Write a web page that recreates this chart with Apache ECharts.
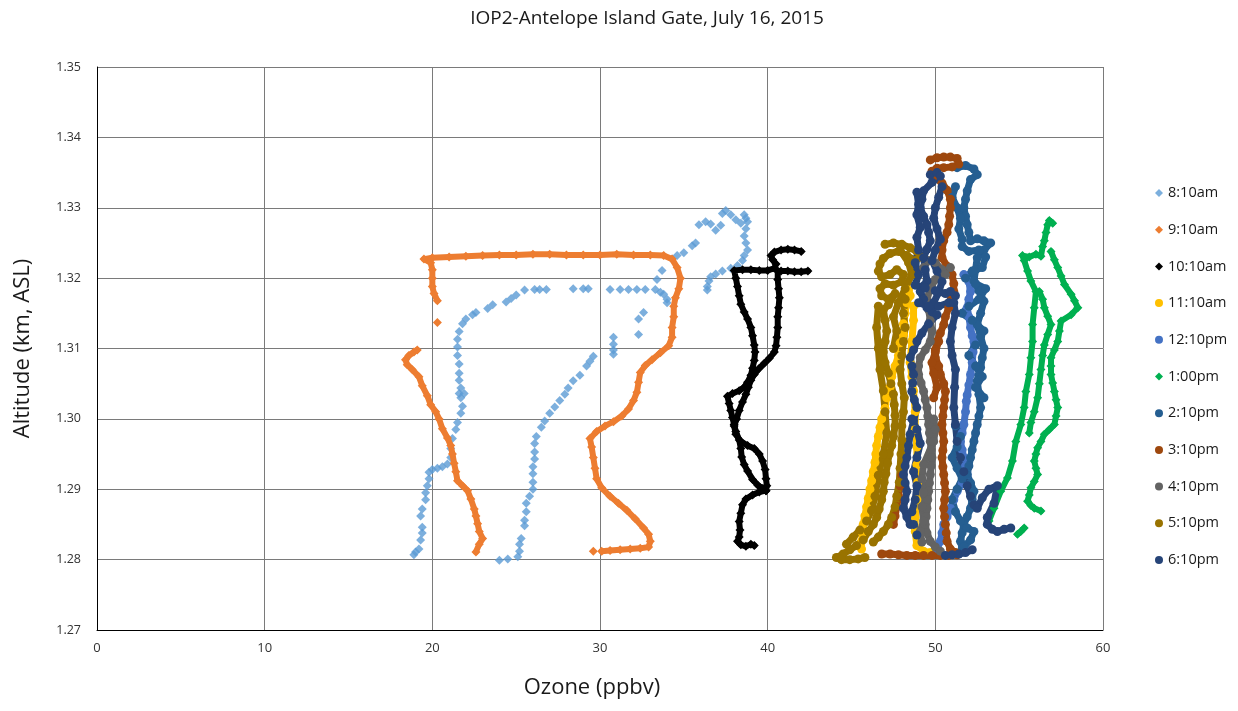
<!DOCTYPE html>
<html>
<head>
<meta charset="utf-8">
<script src="https://cdn.jsdelivr.net/npm/echarts@6/dist/echarts.min.js"></script>
<style>
  html, body { margin: 0; padding: 0; background: #fff; }
  #chart { width: 1238px; height: 711px; }
</style>
</head>
<body>
<div id="chart"></div>
<script>
// Ozone (ppbv) vs altitude (km ASL) profiles, one array of track segments per flight.
const xTicks = [0, 10, 20, 30, 40, 50, 60];
const yTicks = [1.27, 1.28, 1.29, 1.30, 1.31, 1.32, 1.33, 1.34, 1.35];

const flight0810 = [[
  [18.9,1.2807],[19.0,1.2811],[19.2,1.2815],[19.3,1.2828],[19.4,1.2838],[19.4,1.2846],[19.3,1.2862],[19.4,1.2872],
  [19.6,1.2885],[19.6,1.2895],[19.7,1.2905],[19.8,1.2915],[19.8,1.2924],[20.0,1.2928],[20.3,1.2930],[20.6,1.2932],
  [20.9,1.2936],[21.1,1.2945],[21.1,1.2958],[21.2,1.2972],[21.4,1.2985],[21.5,1.2995],[21.7,1.3008],[21.8,1.3018],
  [21.7,1.3030],[21.6,1.3036],[21.9,1.3036],[21.7,1.3044],[21.6,1.3055],[21.6,1.3065],[21.6,1.3078],[21.5,1.3090],
  [21.5,1.3102],[21.5,1.3113],[21.6,1.3124],[21.8,1.3135],[22.0,1.3142],[22.4,1.3148],[22.6,1.3151],[23.3,1.3157],
  [23.6,1.3162],[24.4,1.3166],[24.7,1.3171],[25.0,1.3176],[25.5,1.3183],[26.1,1.3184],[26.4,1.3184],[26.8,1.3184],
  [28.4,1.3185],[29.0,1.3185],[29.3,1.3185],[30.6,1.3184],[31.2,1.3184],[31.7,1.3184],[32.2,1.3184],[32.7,1.3184],
  [33.3,1.3184],[33.6,1.3180],[33.8,1.3177],[34.0,1.3170],[34.0,1.3165],[33.4,1.3198],[33.7,1.3211],[34.3,1.3227],
  [34.6,1.3232],[35.0,1.3236],[35.5,1.3246],[35.7,1.3250],[35.9,1.3276],[36.3,1.3280],[36.6,1.3277],[36.9,1.3268],
  [37.2,1.3275],[37.3,1.3292],[37.5,1.3296],[37.8,1.3290],[38.1,1.3283],[38.4,1.3278],[38.6,1.3290],[38.7,1.3285],
  [38.8,1.3280],[38.7,1.3270],[38.6,1.3260],[38.7,1.3250],[38.8,1.3240],[38.6,1.3232],[38.5,1.3225],[38.2,1.3218],
  [37.8,1.3214],[37.3,1.3210],[36.9,1.3206],[36.6,1.3202],[36.5,1.3196],[36.4,1.3188],[36.4,1.3183]
],[
  [32.6,1.3151],[32.3,1.3142],[32.3,1.3120],[30.8,1.3116],[30.8,1.3106],[30.8,1.3098],[30.8,1.3092],[29.6,1.3089],
  [29.4,1.3082],[29.2,1.3075],[28.8,1.3062],[28.4,1.3054],[28.1,1.3044],[27.9,1.3035],[27.6,1.3026],[27.3,1.3017],
  [27.0,1.3008],[26.7,1.2997],[26.5,1.2988],[26.2,1.2975],[26.1,1.2965],[26.1,1.2953],[26.1,1.2943],[26.0,1.2932],
  [26.0,1.2922],[26.0,1.2910],[26.0,1.2900],[25.8,1.2890],[25.6,1.2880],[25.6,1.2868],[25.5,1.2856],[25.5,1.2848],
  [25.3,1.2830],[25.2,1.2822],[25.2,1.2812],[25.1,1.2804],[24.5,1.2801],[24.0,1.2799]
]];

const flight0910 = [[
  [22.6,1.2811],[22.8,1.2822],[23.0,1.2830],[22.8,1.2840],[22.7,1.2851],[22.6,1.2862],[22.5,1.2872],[22.3,1.2886],
  [22.1,1.2898],[21.8,1.2905],[21.5,1.2912],[21.4,1.2925],[21.3,1.2937],[21.2,1.2950],[21.1,1.2962],[20.9,1.2973],
  [20.6,1.2986],[20.4,1.3000],[20.2,1.3010],[19.9,1.3020],[19.7,1.3033],[19.4,1.3047],[19.2,1.3060],[18.8,1.3070],
  [18.5,1.3077],[18.4,1.3084],[18.6,1.3090],[18.9,1.3095],[19.1,1.3098]
],[
  [20.3,1.3137]
],[
  [20.3,1.3168],[20.1,1.3178],[20.0,1.3188],[20.0,1.3200],[20.0,1.3212],[19.9,1.3222],[19.5,1.3227],[20.0,1.3229],
  [21.0,1.3230],[22.0,1.3231],[23.0,1.3232],[24.0,1.3233],[25.0,1.3233],[26.0,1.3234],[27.0,1.3234],[28.0,1.3233],
  [29.0,1.3233],[30.0,1.3233],[31.0,1.3234],[32.0,1.3233],[33.0,1.3233],[33.8,1.3232],[34.3,1.3227],[34.6,1.3215],
  [34.8,1.3200],[34.7,1.3185],[34.5,1.3172],[34.4,1.3160],[34.4,1.3145],[34.3,1.3130],[34.3,1.3116],[34.1,1.3104],
  [33.6,1.3094],[33.1,1.3084],[32.7,1.3076],[32.4,1.3066],[32.3,1.3052],[32.2,1.3038],[32.0,1.3026],[31.7,1.3014],
  [31.3,1.3004],[30.8,1.2996],[30.3,1.2990],[29.8,1.2982],[29.4,1.2972],[29.5,1.2960],[29.6,1.2945],[29.7,1.2930],
  [29.8,1.2915],[30.1,1.2902],[30.6,1.2890],[31.1,1.2880],[31.6,1.2870],[32.1,1.2858],[32.6,1.2845],[32.9,1.2836],
  [33.0,1.2826],[32.9,1.2818],[32.4,1.2816],[31.8,1.2815],[31.2,1.2814],[30.6,1.2813],[30.1,1.2812]
],[
  [29.6,1.2812]
]];

const flight1010 = [[
  [42.0,1.3238],[41.6,1.3240],[41.2,1.3241],[40.8,1.3240],[40.4,1.3237],[40.2,1.3232],[40.3,1.3226],[40.5,1.3220],
  [40.4,1.3214],[40.0,1.3211],[39.5,1.3211],[39.0,1.3212],[38.5,1.3212],[38.0,1.3211],[38.1,1.3200],[38.2,1.3188],
  [38.3,1.3175],[38.4,1.3163],[38.6,1.3152],[38.8,1.3142],[39.0,1.3130],[39.1,1.3118],[39.2,1.3105],[39.25,1.3095],
  [39.2,1.3083],[39.1,1.3072],[39.0,1.3062],[38.8,1.3052],[38.6,1.3045],[38.3,1.3040],[37.9,1.3036],[37.6,1.3032],
  [37.7,1.3022],[37.8,1.3012],[37.9,1.3002],[38.0,1.2992],[38.1,1.2982],[38.3,1.2970],[38.4,1.2958],[38.45,1.2946],
  [38.6,1.2935],[38.8,1.2926],[39.1,1.2914],[39.4,1.2906],[39.7,1.2901],[39.9,1.2898],[39.5,1.2896],[39.1,1.2892],
  [38.7,1.2886],[38.5,1.2878],[38.4,1.2866],[38.3,1.2854],[38.35,1.2842],[38.3,1.2832],[38.2,1.2826],[38.4,1.2821],
  [38.7,1.2819],[39.0,1.2822],[39.2,1.2820]
],[
  [42.4,1.3210],[42.0,1.3209],[41.6,1.3209],[41.2,1.3210],[40.8,1.3210],[40.6,1.3210],[40.6,1.3198],[40.65,1.3185],
  [40.7,1.3172],[40.65,1.3158],[40.6,1.3145],[40.6,1.3130],[40.55,1.3116],[40.5,1.3104],[40.4,1.3095],[40.1,1.3086],
  [39.8,1.3079],[39.5,1.3072],[39.2,1.3063],[39.0,1.3055],[38.85,1.3045],[38.7,1.3035],[38.5,1.3024],[38.3,1.3012],
  [38.15,1.3000],[38.0,1.2990],[38.1,1.2978],[38.4,1.2968],[38.8,1.2962],[39.2,1.2958],[39.5,1.2950],[39.7,1.2940],
  [39.85,1.2928],[39.9,1.2915],[39.95,1.2905],[39.9,1.2898]
]];

const flight1110 = [[
  [48.4,1.3183],[48.5,1.3175],[48.3,1.3165],[48.2,1.3150],[48.1,1.3135],[48.1,1.3120],[47.9,1.3108],[47.8,1.3090],
  [47.6,1.3075],[47.4,1.3060],[47.3,1.3045],[47.1,1.3030],[47.0,1.3015],[46.8,1.3000],[46.7,1.2988],[46.6,1.2975],
  [46.5,1.2962],[46.45,1.2950],[46.4,1.2938],[46.3,1.2925],[46.2,1.2912],[46.1,1.2900],[46.0,1.2887],[45.9,1.2875],
  [45.8,1.2862],[45.7,1.2850],[45.65,1.2838],[45.6,1.2826],[45.6,1.2815]
],[
  [48.7,1.3160],[48.7,1.3140],[48.6,1.3110],[48.5,1.3080],[48.6,1.3060],[48.7,1.3040],[48.8,1.3010],[48.8,1.2985],
  [48.9,1.2960],[48.9,1.2935],[48.95,1.2910],[48.9,1.2885],[48.8,1.2860],[48.8,1.2840],[48.9,1.2820],[49.3,1.2812],
  [49.7,1.2810]
]];

const flight1210 = [[
  [51.7,1.3205],[52.0,1.3195],[52.1,1.3181],[52.0,1.3170],[51.9,1.3158],[52.0,1.3145],[52.1,1.3130],[52.2,1.3118],
  [52.3,1.3110],[52.25,1.3095],[52.2,1.3080],[52.1,1.3063],[52.0,1.3048],[51.9,1.3034],[51.85,1.3025],[51.8,1.3010],
  [51.7,1.2992],[51.6,1.2980],[51.5,1.2968],[51.6,1.2956],[51.7,1.2945],[51.8,1.2933],[51.9,1.2921],[51.6,1.2909],
  [51.3,1.2897],[51.1,1.2885],[50.9,1.2873],[50.7,1.2861],[50.5,1.2850],[50.4,1.2838],[50.3,1.2826],[50.1,1.2815]
]];

const flight1300 = [[
  [53.2,1.2855],[53.5,1.2873],[53.9,1.2897],[54.3,1.2916],[54.6,1.2940],[54.8,1.2968],[55.1,1.2992],[55.3,1.3016],
  [55.4,1.3039],[55.6,1.3063],[55.7,1.3087],[55.8,1.3110],[55.8,1.3134],[55.9,1.3158],[56.0,1.3181],[55.7,1.3196],
  [55.5,1.3210],[55.3,1.3225],[55.2,1.3232],[55.6,1.3230],[56.0,1.3234],[56.3,1.3231],[56.4,1.3245],[56.5,1.3253],
  [56.6,1.3265],[56.7,1.3276],[56.8,1.3282],[57.0,1.3278]
],[
  [56.9,1.3238],[57.1,1.3226],[57.3,1.3215],[57.5,1.3203],[57.7,1.3191],[58.1,1.3177],[58.3,1.3168],[58.5,1.3158],
  [58.1,1.3148],[57.5,1.3139],[57.4,1.3125],[57.3,1.3110],[57.1,1.3098],[56.9,1.3087],[56.9,1.3075],[56.9,1.3063],
  [57.0,1.3051],[57.1,1.3039],[57.2,1.3027],[57.3,1.3016],[57.2,1.3004],[57.1,1.2992],[56.8,1.2985],[56.5,1.2978],
  [56.3,1.2968],[56.1,1.2959],[56.0,1.2950],[55.9,1.2940],[56.0,1.2930],[56.1,1.2921],[55.9,1.2911],[55.7,1.2902],
  [55.6,1.2892],[55.5,1.2883],[55.7,1.2877],[55.9,1.2873],[56.3,1.2869]
],[
  [56.2,1.3181],[56.4,1.3170],[56.5,1.3158],[56.7,1.3146],[56.9,1.3134],[56.7,1.3120],[56.5,1.3105],[56.4,1.3090],
  [56.3,1.3070],[56.2,1.3050],[56.1,1.3030],[55.9,1.3010],[55.7,1.2995],[55.6,1.2980]
],[
  [54.9,1.2836],[55.1,1.2840],[55.3,1.2845]
]];

const flight1410 = [[
  [51.3,1.3357],[51.8,1.3360],[52.3,1.3355],[52.5,1.3347],[52.1,1.3340],[51.9,1.3324],[51.8,1.3312],[51.7,1.3300],
  [51.8,1.3288],[51.9,1.3276],[52.0,1.3265],[52.1,1.3253],[52.5,1.3256],[52.9,1.3253],[53.3,1.3250],[52.9,1.3240],
  [52.5,1.3229],[52.4,1.3212],[52.3,1.3196],[52.6,1.3182],[52.9,1.3167],[52.7,1.3150],[52.5,1.3134],[52.7,1.3117],
  [52.9,1.3100],[52.8,1.3087],[52.7,1.3073],[52.6,1.3062],[52.5,1.3054],[52.6,1.3035],[52.7,1.3016],[52.6,1.3004],
  [52.5,1.2992],[52.4,1.2980],[52.3,1.2968],[52.2,1.2956],[52.1,1.2945],[52.0,1.2933],[51.9,1.2921],[52.1,1.2909],
  [52.3,1.2897],[52.2,1.2885],[52.1,1.2873],[51.9,1.2861],[51.7,1.2850],[51.6,1.2838],[51.5,1.2826],[51.6,1.2815]
],[
  [51.2,1.3330],[51.0,1.3315],[51.3,1.3300],[51.5,1.3285],[51.4,1.3270],[51.6,1.3255]
],[
  [51.6,1.3245],[52.0,1.3238],[52.6,1.3240],[53.0,1.3230],[52.8,1.3215],[52.2,1.3210],[51.8,1.3200],[52.4,1.3192],
  [53.0,1.3185],[52.6,1.3170],[52.0,1.3160],[51.6,1.3150],[52.2,1.3140],[52.9,1.3125],[52.4,1.3105],[52.0,1.3090],
  [52.4,1.3075],[52.8,1.3060],[52.4,1.3045],[52.9,1.3030]
],[
  [51.2,1.2990],[51.5,1.2975],[51.3,1.2960],[51.0,1.2945],[51.3,1.2930],[51.6,1.2915],[51.3,1.2900],[51.0,1.2885],
  [51.2,1.2868],[51.5,1.2855],[51.9,1.2845],[52.3,1.2840],[52.1,1.2828],[51.7,1.2818]
]];

const flight1510 = [[
  [49.7,1.3368],[50.1,1.3371],[50.5,1.3372],[50.9,1.3372],[51.3,1.3370],[51.4,1.3362],[51.0,1.3358],[50.5,1.3357],
  [50.1,1.3356],[49.8,1.3352],[49.9,1.3345],[50.4,1.3335],[50.7,1.3325],[50.9,1.3312],[50.9,1.3300],[50.85,1.3288],
  [50.8,1.3276],[50.7,1.3265],[50.5,1.3253],[50.4,1.3240],[50.4,1.3229],[50.7,1.3217],[51.0,1.3205],[51.1,1.3192],
  [51.1,1.3181],[50.95,1.3170],[50.8,1.3158],[50.6,1.3145],[50.5,1.3134],[50.3,1.3122],[50.1,1.3110],[50.0,1.3098],
  [50.0,1.3087],[50.2,1.3075],[50.3,1.3063],[50.5,1.3050],[50.6,1.3039],[50.55,1.3027],[50.5,1.3016],[50.45,1.3004],
  [50.4,1.2992],[50.45,1.2980],[50.5,1.2968],[50.45,1.2955],[50.4,1.2945],[50.45,1.2932],[50.5,1.2921],[50.55,1.2909],
  [50.6,1.2897],[50.55,1.2885],[50.5,1.2873],[50.55,1.2861],[50.6,1.2850],[50.65,1.2838],[50.7,1.2826],[50.9,1.2815],
  [51.2,1.2810]
],[
  [51.3,1.2807],[50.8,1.2806],[50.3,1.2806],[49.8,1.2806],[49.3,1.2806],[48.8,1.2806],[48.3,1.2806],[47.8,1.2807],
  [47.3,1.2808],[46.8,1.2808]
],[
  [48.0,1.2920],[47.9,1.2905],[47.8,1.2890],[47.7,1.2875],[47.6,1.2862],[47.5,1.2850]
],[
  [50.2,1.3110],[50.0,1.3095],[49.8,1.3080],[49.9,1.3065],[50.1,1.3045],[49.9,1.3030]
]];

const flight1610 = [[
  [49.3,1.3215],[49.6,1.3225],[50.0,1.3222],[50.4,1.3212],[50.9,1.3215],[50.6,1.3205],[50.0,1.3198],[49.7,1.3185],
  [49.5,1.3170],[49.6,1.3155],[49.7,1.3140],[49.8,1.3125],[49.7,1.3110],[49.4,1.3098],[49.1,1.3087],[49.0,1.3075],
  [49.0,1.3063],[49.15,1.3051],[49.3,1.3039],[49.4,1.3027],[49.5,1.3016],[49.55,1.3004],[49.6,1.2992],[49.65,1.2980],
  [49.7,1.2968],[49.75,1.2956],[49.8,1.2945],[49.75,1.2933],[49.7,1.2921],[49.65,1.2909],[49.6,1.2897],[49.55,1.2885],
  [49.5,1.2873],[49.45,1.2861],[49.4,1.2850],[49.5,1.2838],[49.7,1.2826],[50.0,1.2818],[50.3,1.2812]
],[
  [49.9,1.3000],[50.0,1.2985],[49.9,1.2968],[49.3,1.2935],[49.2,1.2915],[49.3,1.2895],[49.2,1.2875],[49.3,1.2855],
  [49.1,1.2840],[49.2,1.2825]
]];

const flight1710 = [[
  [47.0,1.3248],[47.5,1.3250],[48.0,1.3248],[48.5,1.3243],[48.9,1.3238],[49.1,1.3230],[48.8,1.3225],[48.3,1.3232],
  [47.8,1.3238],[47.3,1.3235],[46.9,1.3228],[46.7,1.3220],[46.6,1.3210],[46.8,1.3202],[47.3,1.3205],[47.7,1.3212],
  [48.1,1.3205],[48.0,1.3195],[47.5,1.3190],[47.0,1.3192],[46.7,1.3185],[46.8,1.3175],[47.2,1.3170],[47.6,1.3178],
  [47.2,1.3162],[46.9,1.3155],[47.0,1.3140],[47.1,1.3125],[47.0,1.3110],[46.9,1.3095],[47.0,1.3080],[47.2,1.3065],
  [47.35,1.3050],[47.5,1.3035],[47.55,1.3020],[47.6,1.3005],[47.6,1.2990],[47.5,1.2975],[47.4,1.2962],[47.25,1.2950],
  [47.15,1.2937],[47.05,1.2922],[46.95,1.2910],[46.9,1.2897],[46.8,1.2885],[46.65,1.2872],[46.5,1.2860],[46.3,1.2850],
  [46.0,1.2840],[45.7,1.2828],[45.3,1.2820],[44.9,1.2814],[44.5,1.2808],[44.1,1.2803],[44.4,1.2800],[44.9,1.2800],
  [45.4,1.2801],[45.8,1.2803]
],[
  [48.2,1.3170],[48.1,1.3150],[48.2,1.3130],[48.1,1.3110],[48.0,1.3090],[47.9,1.3070],[48.0,1.3050],[48.15,1.3030],
  [48.1,1.3010],[48.0,1.2990],[48.0,1.2970],[47.95,1.2950],[47.9,1.2930],[47.85,1.2910],[47.7,1.2890],[47.6,1.2875],
  [47.4,1.2860],[47.2,1.2850],[46.9,1.2840],[46.6,1.2832],[46.3,1.2825]
],[
  [46.6,1.3160],[46.5,1.3130],[46.6,1.3100],[46.7,1.3070],[46.9,1.3040],[47.0,1.3010],[47.1,1.2980],[46.9,1.2950],
  [46.6,1.2920],[46.4,1.2890],[46.2,1.2870],[45.9,1.2855],[45.5,1.2842],[45.1,1.2832],[44.7,1.2822]
],[
  [47.9,1.3240],[48.4,1.3222],[48.6,1.3205],[48.2,1.3185],[47.8,1.3165],[47.5,1.3145],[47.7,1.3125],[47.5,1.3100]
]];

const flight1810 = [[
  [49.7,1.3347],[50.1,1.3350],[50.3,1.3345],[49.8,1.3336],[49.3,1.3324],[49.2,1.3312],[49.1,1.3300],[49.3,1.3288],
  [49.5,1.3276],[49.6,1.3265],[49.7,1.3253],[49.5,1.3241],[49.3,1.3229],[49.4,1.3212],[49.5,1.3196],[49.3,1.3189],
  [49.1,1.3181],[49.3,1.3170],[49.5,1.3158],[49.8,1.3152],[50.1,1.3148],[49.6,1.3135],[49.2,1.3122],[48.9,1.3110],
  [48.7,1.3098],[48.5,1.3087],[48.6,1.3075],[48.7,1.3063],[48.65,1.3051],[48.6,1.3039],[48.75,1.3027],[48.9,1.3016],
  [48.7,1.2997],[48.5,1.2978],[48.4,1.2962],[48.3,1.2945],[48.2,1.2933],[48.1,1.2921],[48.2,1.2909],[48.3,1.2897],
  [48.2,1.2885],[48.1,1.2873],[48.3,1.2861],[48.5,1.2850]
],[
  [50.4,1.3330],[50.2,1.3315],[50.0,1.3300],[49.9,1.3285],[50.1,1.3270],[50.3,1.3255],[50.0,1.3240],[49.8,1.3225],
  [50.1,1.3210],[50.4,1.3195],[50.2,1.3180],[49.9,1.3165]
],[
  [48.9,1.3322],[49.0,1.3305],[48.9,1.3290],[49.1,1.3272],[48.9,1.3258],[49.0,1.3240],[48.8,1.3222],[49.0,1.3205],
  [48.8,1.3190],[49.4,1.3186],[50.0,1.3182],[50.6,1.3178],[51.2,1.3175],[50.8,1.3165],[50.2,1.3160],[49.6,1.3160],
  [49.0,1.3165]
],[
  [50.9,1.3181],[51.1,1.3165],[51.2,1.3150],[51.0,1.3130],[50.9,1.3110],[51.0,1.3090],[51.2,1.3070],[51.15,1.3045],
  [51.1,1.3016],[51.2,1.2992],[51.3,1.2968],[51.5,1.2945],[51.7,1.2925],[51.9,1.2905],[52.1,1.2890],[52.3,1.2878],
  [52.5,1.2873],[52.8,1.2888],[53.2,1.2900],[53.7,1.2905],[53.5,1.2880],[53.1,1.2860],[53.1,1.2850],[53.4,1.2843],
  [53.7,1.2840],[54.1,1.2843],[54.5,1.2845]
],[
  [50.6,1.2806],[51.0,1.2807],[51.4,1.2808],[51.8,1.2810],[52.2,1.2814]
],[
  [48.6,1.3000],[48.9,1.2985],[49.1,1.2965],[48.9,1.2945],[48.7,1.2925],[48.9,1.2905],[48.8,1.2885],[48.6,1.2868],
  [48.7,1.2850],[48.9,1.2835]
]];

const flights = [
  { name: '8:10am',  color: '#5B9BD5', symbol: 'diamond', track: false, data: flight0810 },
  { name: '9:10am',  color: '#ED7D31', symbol: 'diamond', track: true,  data: flight0910 },
  { name: '10:10am', color: '#000000', symbol: 'diamond', track: true,  data: flight1010 },
  { name: '11:10am', color: '#FFC000', symbol: 'circle',  track: true,  data: flight1110 },
  { name: '12:10pm', color: '#4472C4', symbol: 'circle',  track: true,  data: flight1210 },
  { name: '1:00pm',  color: '#00B050', symbol: 'diamond', track: true,  data: flight1300 },
  { name: '2:10pm',  color: '#255E91', symbol: 'circle',  track: true,  data: flight1410 },
  { name: '3:10pm',  color: '#9E480E', symbol: 'circle',  track: true,  data: flight1510 },
  { name: '4:10pm',  color: '#636363', symbol: 'circle',  track: true,  data: flight1610 },
  { name: '5:10pm',  color: '#997300', symbol: 'circle',  track: true,  data: flight1710 },
  { name: '6:10pm',  color: '#264478', symbol: 'circle',  track: true,  data: flight1810 }
];

const FONT = '"Open Sans", "Noto Sans", sans-serif';

const series = [];
flights.forEach(f => {
  const isDiamond = f.symbol === 'diamond';
  f.data.forEach(seg => {
    series.push({
      name: f.name,
      type: f.track ? 'line' : 'scatter',
      data: seg,
      symbol: f.symbol,
      symbolSize: isDiamond ? 9 : 9,
      showSymbol: true,
      itemStyle: { color: f.color },
      lineStyle: { color: f.color, width: isDiamond ? 6 : 7, join: 'round', cap: 'round' },
      smooth: false,
      animation: false,
      emphasis: { disabled: true }
    });
  });
});

const chart = echarts.init(document.getElementById('chart'), null, { renderer: 'canvas' });
chart.setOption({
  backgroundColor: '#ffffff',
  animation: false,
  title: {
    text: 'IOP2-Antelope Island Gate, July 16, 2015',
    left: 642, top: 4, textAlign: 'center',
    textStyle: { fontFamily: FONT, fontSize: 19, fontWeight: 'normal', color: '#1a1a1a' }
  },
  legend: {
    orient: 'vertical',
    left: 1150, top: 180,
    itemWidth: 8, itemHeight: 8, itemGap: 20.7,
    textStyle: { fontFamily: FONT, fontSize: 14.5, color: '#1a1a1a', lineHeight: 16 },
    data: flights.map(f => ({ name: f.name, icon: f.symbol, itemStyle: { color: f.color } }))
  },
  grid: { left: 97, right: 135, top: 67, bottom: 81 },
  xAxis: {
    type: 'value', min: xTicks[0], max: xTicks[xTicks.length - 1], interval: 10,
    name: 'Ozone (ppbv)', nameLocation: 'middle', nameGap: 47,
    nameTextStyle: { fontFamily: FONT, fontSize: 22, color: '#1a1a1a', padding: [0, 16, 0, 0] },
    axisLine: { show: true, onZero: false, lineStyle: { color: '#000', width: 1 } },
    axisTick: { show: false },
    axisLabel: { fontFamily: FONT, fontSize: 13, color: '#333', margin: 12 },
    splitLine: { show: true, lineStyle: { color: '#7a7a7a', width: 1 } }
  },
  yAxis: {
    type: 'value', min: yTicks[0], max: yTicks[yTicks.length - 1], interval: 0.01,
    name: 'Altitude (km, ASL)', nameLocation: 'middle', nameGap: 63,
    nameTextStyle: { fontFamily: FONT, fontSize: 22, color: '#1a1a1a' },
    axisLine: { show: true, onZero: false, lineStyle: { color: '#000', width: 1 } },
    axisTick: { show: false },
    axisLabel: { fontFamily: FONT, fontSize: 12.5, color: '#333', margin: 16,
      formatter: v => v.toFixed(2) },
    splitLine: { show: true, lineStyle: { color: '#7a7a7a', width: 1 } }
  },
  series: series
});
</script>
</body>
</html>
